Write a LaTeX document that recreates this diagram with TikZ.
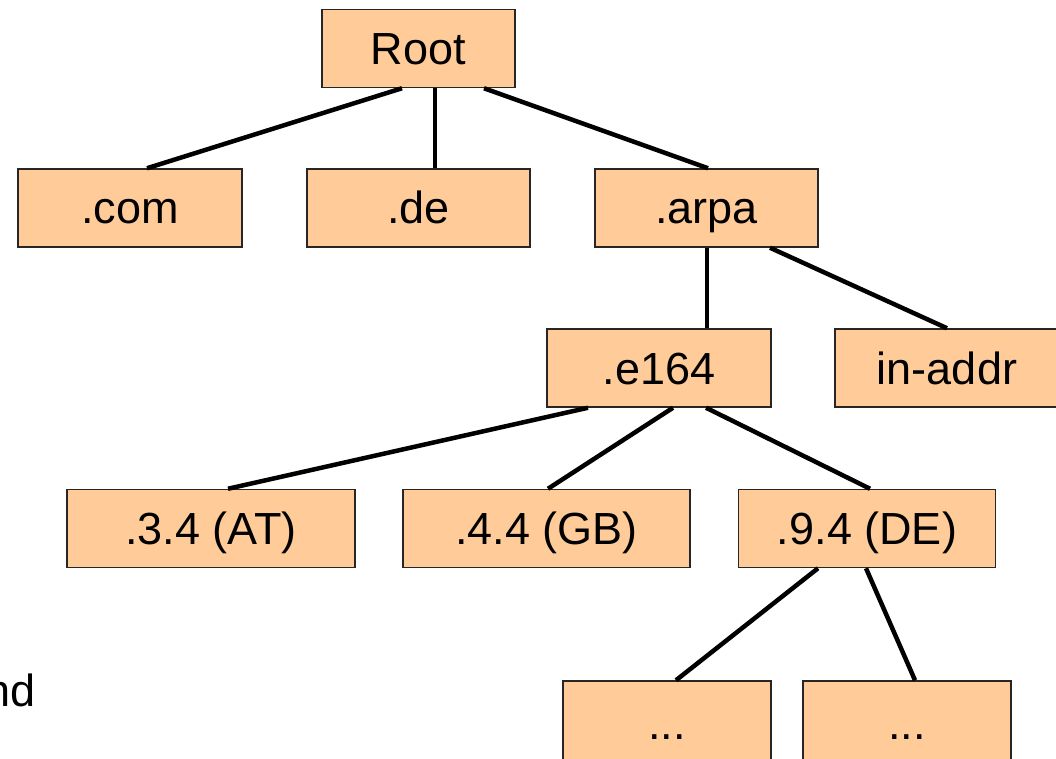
\documentclass[tikz,border=0pt]{standalone}
\usepackage{fontspec}
\setmainfont{Liberation Sans}
\usepackage{tikz}
\definecolor{boxfill}{HTML}{FFCC99}
\tikzset{
	zone/.style={draw=black!85, line width=1.5pt, fill=boxfill, inner sep=0pt,
		minimum height=78pt, text height=32pt, text depth=0pt,
		font=\fontsize{45}{54}\selectfont},
	link/.style={line width=4.5pt}
}
\begin{document}
\begin{tikzpicture}[x=1pt,y=-1pt]
\useasboundingbox (0,0) rectangle (1056,759);
% tree levels
\node[zone, minimum width=193pt] (root) at (418.5,48.5) {Root};
\node[zone, minimum width=224pt] (com) at (130,208) {.com};
\node[zone, minimum width=223pt] (de) at (418.5,208) {.de};
\node[zone, minimum width=223pt] (arpa) at (706.5,208) {.arpa};
\node[zone, minimum width=224pt] (e164) at (659,368) {.e164};
\node[zone, minimum width=224pt] (inaddr) at (947,368) {in-addr};
\node[zone, minimum width=288pt] (at) at (211,528.5) {.3.4 (AT)};
\node[zone, minimum width=287pt] (gb) at (546.5,528.5) {.4.4 (GB)};
\node[zone, minimum width=257pt] (dtel) at (867,528.5) {.9.4 (DE)};
\node[zone, minimum width=208pt, minimum height=84pt] (more1) at (667,723) {...};
\node[zone, minimum width=208pt, minimum height=84pt] (more2) at (907,723) {...};
\node[anchor=base east, inner sep=0pt, font=\fontsize{45}{54}\selectfont] (cut) at (36,706) {nd};
\path[link]
([xshift=-16.5pt]root.south) edge ([xshift=17pt]com.north)
([xshift=16.5pt]root.south) edge ([xshift=16.5pt]de.north)
([xshift=65.5pt]root.south) edge ([xshift=1.5pt]arpa.north)
([xshift=0.5pt]arpa.south) edge ([xshift=48pt]e164.north)
([xshift=63.5pt]arpa.south) edge (inaddr.north)
([xshift=-71pt]e164.south) edge ([xshift=17pt]at.north)
([xshift=14pt]e164.south) edge ([xshift=1.5pt]gb.north)
([xshift=47pt]e164.south) edge ([xshift=3pt]dtel.north)
([xshift=-49pt]dtel.south) edge ([xshift=9pt]more1.north)
([xshift=-1pt]dtel.south) edge ([xshift=8pt]more2.north)
;
\end{tikzpicture}
\end{document}
